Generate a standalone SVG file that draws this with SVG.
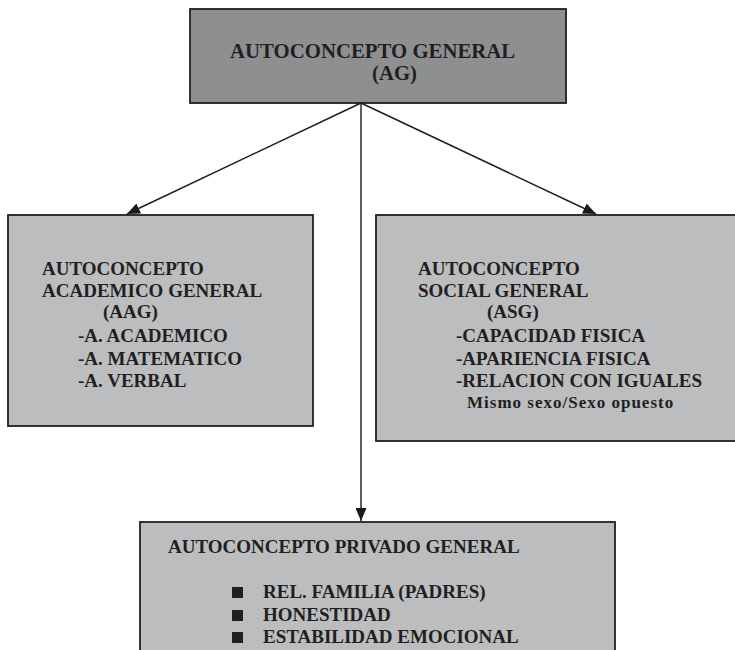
<svg xmlns="http://www.w3.org/2000/svg" width="735" height="650" viewBox="0 0 735 650">
<defs>
<marker id="ah" viewBox="0 0 13 11" refX="13" refY="5.5" markerWidth="13" markerHeight="11" markerUnits="userSpaceOnUse" orient="auto">
<path d="M0,0 L13,5.5 L0,11 z" fill="#1a1a1a"/>
</marker>
<style>
.box{stroke:#231f20;stroke-width:1.8}
.dark{fill:#8e8f91}
.light{fill:#bcbdbf}
text{font-family:"Liberation Serif","Times New Roman",serif;font-weight:bold;fill:#231f20}
.t{font-size:19px}
.big{font-size:20.8px}
.sm{font-size:17px;letter-spacing:1px}
.conn line{stroke:#1a1a1a;stroke-width:1.4;marker-end:url(#ah)}
</style>
</defs>
<rect width="735" height="650" fill="#ffffff"/>
<g id="ag">
<rect class="box dark" x="190" y="9" width="376" height="94"/>
<text class="big" x="230" y="58">AUTOCONCEPTO GENERAL</text>
<text class="big" x="372" y="80">(AG)</text>
</g>
<g id="aag">
<rect class="box light" x="8" y="215" width="305" height="211"/>
<text class="t" x="42" y="275">AUTOCONCEPTO</text>
<text class="t" x="42" y="297">ACADEMICO GENERAL</text>
<text class="t" x="103" y="318">(AAG)</text>
<text class="t" x="78" y="342">-A. ACADEMICO</text>
<text class="t" x="78" y="365">-A. MATEMATICO</text>
<text class="t" x="78" y="387">-A. VERBAL</text>
</g>
<g id="asg">
<rect class="box light" x="376" y="215" width="370" height="226"/>
<text class="t" x="418" y="275">AUTOCONCEPTO</text>
<text class="t" x="418" y="297">SOCIAL GENERAL</text>
<text class="t" x="487" y="318">(ASG)</text>
<text class="t" x="456" y="342">-CAPACIDAD FISICA</text>
<text class="t" x="456" y="365">-APARIENCIA FISICA</text>
<text class="t" x="456" y="387">-RELACION CON IGUALES</text>
<text class="sm" x="467" y="408">Mismo sexo/Sexo opuesto</text>
</g>
<g id="apg">
<rect class="box light" x="140" y="522" width="475" height="140"/>
<text class="t" x="168" y="553">AUTOCONCEPTO PRIVADO GENERAL</text>
<rect x="232" y="587" width="11" height="11" fill="#231f20"/>
<rect x="232" y="610" width="11" height="11" fill="#231f20"/>
<rect x="232" y="632" width="11" height="11" fill="#231f20"/>
<text class="t" x="263" y="598">REL. FAMILIA (PADRES)</text>
<text class="t" x="263" y="621">HONESTIDAD</text>
<text class="t" x="263" y="643">ESTABILIDAD EMOCIONAL</text>
</g>
<g id="connectors" class="conn">
<line x1="361" y1="103" x2="127" y2="214"/>
<line x1="361" y1="103" x2="596" y2="214"/>
<line x1="361" y1="103" x2="361" y2="521"/>
</g>
</svg>
